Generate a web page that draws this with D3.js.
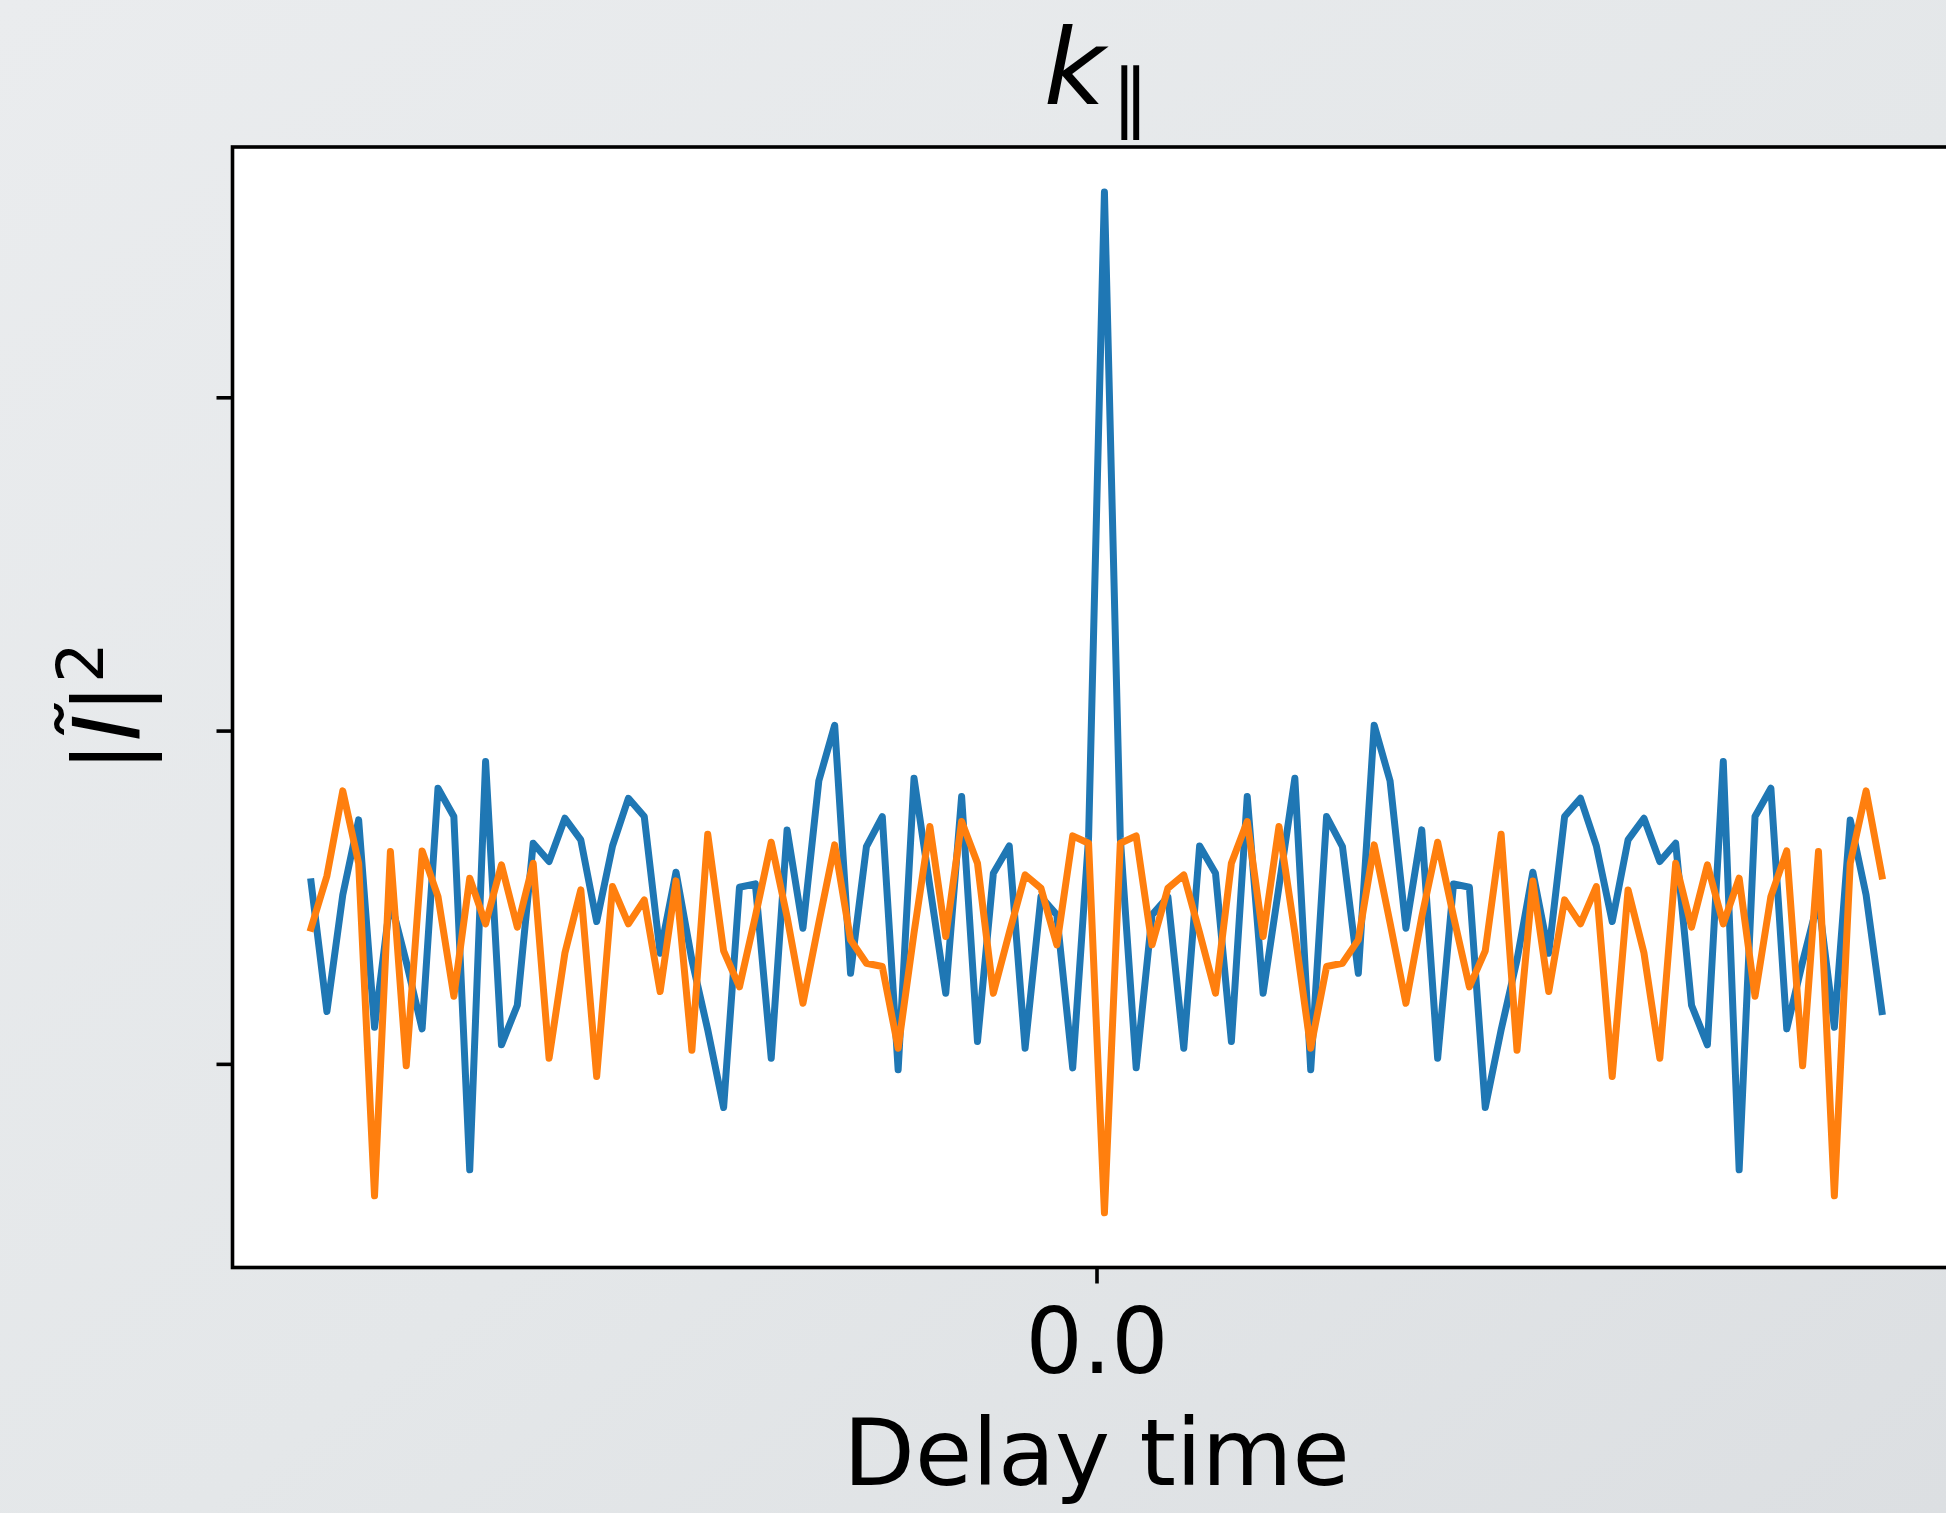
<!DOCTYPE html>
<html>
<head>
<meta charset="utf-8">
<script src="https://cdn.jsdelivr.net/npm/d3@7"></script>
<style>
  html, body { margin: 0; padding: 0; background: #e6e8ea; }
  svg { display: block; }
  text { font-family: "DejaVu Sans", sans-serif; fill: #000; }
</style>
</head>
<body>
<svg id="chart" width="1946" height="1513"></svg>
<script>
// Delay spectrum |I~|^2 for two signals, 100 delay bins (fft-shifted).
const nBins = 100;
const delays = d3.range(nBins).map(i => i - 49.5);

const powerBlue = [
  1.546, 1.157, 1.507, 1.732, 1.110, 1.492, 1.306, 1.105, 1.827, 1.742,
  0.682, 1.907, 1.057, 1.176, 1.662, 1.607, 1.737, 1.672, 1.427, 1.654,
  1.797, 1.742, 1.332, 1.575, 1.312, 1.102, 0.869, 1.530, 1.540, 1.017,
  1.702, 1.407, 1.849, 2.016, 1.272, 1.652, 1.742, 0.982, 1.857, 1.532,
  1.212, 1.802, 1.067, 1.572, 1.654, 1.047, 1.501, 1.447, 0.988, 1.678,
  3.616, 1.678, 0.988, 1.447, 1.501, 1.047, 1.654, 1.572, 1.067, 1.802,
  1.212, 1.532, 1.857, 0.982, 1.742, 1.652, 1.272, 2.016, 1.849, 1.407,
  1.702, 1.017, 1.540, 1.530, 0.869, 1.102, 1.312, 1.575, 1.332, 1.742,
  1.797, 1.654, 1.427, 1.672, 1.737, 1.607, 1.662, 1.176, 1.057, 1.907,
  0.682, 1.742, 1.827, 1.105, 1.306, 1.492, 1.110, 1.732, 1.507, 1.157
];

const powerOrange = [
  1.407, 1.564, 1.819, 1.602, 0.604, 1.637, 0.994, 1.639, 1.502, 1.203,
  1.557, 1.420, 1.597, 1.410, 1.602, 1.017, 1.333, 1.522, 0.962, 1.532,
  1.420, 1.492, 1.217, 1.549, 1.041, 1.689, 1.339, 1.231, 1.442, 1.665,
  1.441, 1.182, 1.423, 1.657, 1.372, 1.302, 1.292, 1.047, 1.393, 1.712,
  1.382, 1.727, 1.602, 1.212, 1.393, 1.567, 1.527, 1.357, 1.684, 1.662,
  0.553, 1.662, 1.684, 1.357, 1.527, 1.567, 1.393, 1.212, 1.602, 1.727,
  1.382, 1.712, 1.393, 1.047, 1.292, 1.302, 1.372, 1.657, 1.423, 1.182,
  1.441, 1.665, 1.442, 1.231, 1.339, 1.689, 1.041, 1.549, 1.217, 1.492,
  1.420, 1.532, 0.962, 1.522, 1.333, 1.017, 1.602, 1.410, 1.597, 1.420,
  1.557, 1.203, 1.502, 1.639, 0.994, 1.637, 0.604, 1.602, 1.819, 1.564
];

const xTickValues = [0];
const xTickLabels = ["0.0"];
const yTickValues = [1, 2, 3];

const colors = { blue: "#1f77b4", orange: "#ff7f0e" };

// Axes box (the right edge runs past the page)
const ax = { left: 232.5, right: 1960.5, top: 147, bottom: 1267.5 };

const svg = d3.select("#chart");

// figure background
const defs = svg.append("defs");
const grad = defs.append("linearGradient")
  .attr("id", "bg").attr("x1", "0").attr("y1", "0").attr("x2", "1").attr("y2", "1");
grad.append("stop").attr("offset", "0").attr("stop-color", "#eaecee");
grad.append("stop").attr("offset", "0.55").attr("stop-color", "#e4e7e9");
grad.append("stop").attr("offset", "1").attr("stop-color", "#dcdfe2");
svg.append("rect").attr("width", 1946).attr("height", 1513).attr("fill", "url(#bg)");

// scales: 5% margin on x like the default autoscale
const xExt = d3.extent(delays);
const xPad = 0.05 * (xExt[1] - xExt[0]);
const x = d3.scaleLinear()
  .domain([xExt[0] - xPad, xExt[1] + xPad])
  .range([ax.left, ax.right]);
const y = d3.scaleLinear()
  .domain([0.389, 3.751])
  .range([ax.bottom, ax.top]);

// plotting area
svg.append("rect")
  .attr("x", ax.left).attr("y", ax.top)
  .attr("width", ax.right - ax.left).attr("height", ax.bottom - ax.top)
  .attr("fill", "#ffffff");

defs.append("clipPath").attr("id", "clip")
  .append("rect")
  .attr("x", ax.left).attr("y", ax.top)
  .attr("width", ax.right - ax.left).attr("height", ax.bottom - ax.top);

const line = d3.line()
  .x((d, i) => x(delays[i]))
  .y(d => y(d));

const plot = svg.append("g").attr("clip-path", "url(#clip)");
[[powerBlue, colors.blue], [powerOrange, colors.orange]].forEach(([vals, c]) => {
  plot.append("path")
    .datum(vals)
    .attr("d", line)
    .attr("fill", "none")
    .attr("stroke", c)
    .attr("stroke-width", 7)
    .attr("stroke-linejoin", "round")
    .attr("stroke-linecap", "square");
});

// axes
const tickLen = 16;
const yAxis = svg.append("g")
  .attr("transform", `translate(${ax.left},0)`)
  .call(d3.axisLeft(y).tickValues(yTickValues).tickFormat("").tickSize(tickLen));
yAxis.select(".domain").remove();
yAxis.selectAll(".tick line").attr("stroke", "#000").attr("stroke-width", 3.6);

const xAxis = svg.append("g")
  .attr("transform", `translate(0,${ax.bottom})`)
  .call(d3.axisBottom(x).tickValues(xTickValues)
    .tickFormat((d, i) => xTickLabels[i]).tickSize(tickLen));
xAxis.select(".domain").remove();
xAxis.selectAll(".tick line").attr("stroke", "#000").attr("stroke-width", 3.6);
xAxis.selectAll(".tick text")
  .attr("dy", null)
  .attr("y", 105.5)
  .attr("font-family", "DejaVu Sans")
  .attr("font-size", 90)
  .attr("fill", "#000");

// spines
svg.append("rect")
  .attr("x", ax.left).attr("y", ax.top)
  .attr("width", ax.right - ax.left).attr("height", ax.bottom - ax.top)
  .attr("fill", "none").attr("stroke", "#000").attr("stroke-width", 3.6);

// x label
svg.append("text")
  .attr("x", (ax.left + ax.right) / 2)
  .attr("y", 1485)
  .attr("text-anchor", "middle")
  .attr("font-size", 93)
  .text("Delay time");

// y label: |Ĩ|²
const yl = svg.append("text")
  .attr("transform", `translate(140,${(ax.top + ax.bottom) / 2}) rotate(-90)`)
  .attr("text-anchor", "middle")
  .attr("font-size", 92);
yl.append("tspan").text("|");
yl.append("tspan").attr("font-style", "italic").text("Ĩ");
yl.append("tspan").text("|");
yl.append("tspan").attr("font-size", 64).attr("dy", -37).text("2");

// title: k∥
const title = svg.append("text")
  .attr("x", (ax.left + ax.right) / 2)
  .attr("y", 104)
  .attr("text-anchor", "middle")
  .attr("font-size", 106);
title.append("tspan").attr("font-style", "italic").text("k");
title.append("tspan").attr("font-size", 76).attr("dx", 6).attr("dy", 20).text("∥");
</script>
</body>
</html>
